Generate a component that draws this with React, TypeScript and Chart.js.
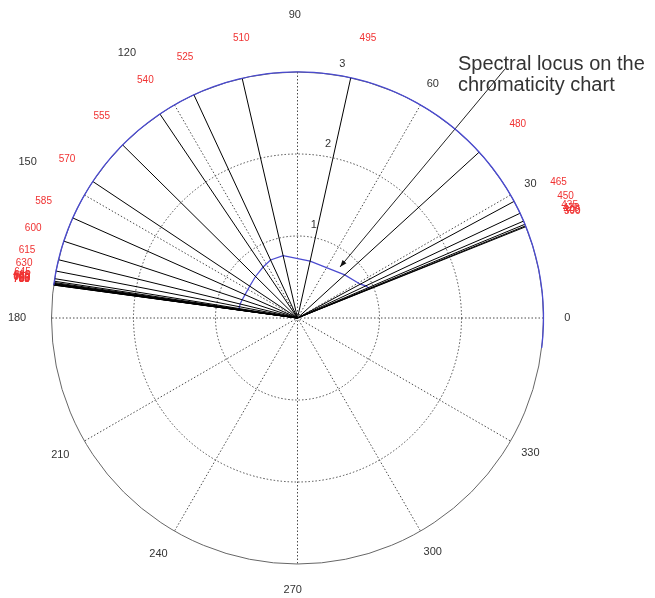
import React, { useEffect, useRef } from "react";
import { Chart, registerables } from "chart.js";

Chart.register(...registerables);

// Wavelengths (nm) shown as spokes, every 15 nm
const wavelengths = [
  390, 405, 420, 435, 450, 465, 480, 495, 510, 525, 540, 555, 570, 585, 600,
  615, 630, 645, 660, 675, 690, 705, 720, 735, 750, 765, 780,
];
// Hue angle (degrees) of each wavelength
const hueAngles = [
  21.8, 22.0, 22.4, 23.2, 25.2, 28.3, 42.4, 77.5, 103.0, 114.9, 124.0, 135.3,
  146.3, 156.0, 161.8, 166.3, 169.0, 170.8, 171.4, 171.7, 171.9, 172.0, 172.1,
  172.2, 172.2, 172.3, 172.3,
];
// Radius of the spectral locus (inner blue curve) at each wavelength
const locusRadius = [
  0.96, 0.96, 0.95, 0.94, 0.92, 0.87, 0.78, 0.71, 0.78, 0.78, 0.75, 0.72,
  0.7, 0.7, 0.71, 0.72, 0.72, 0.72, 0.72, 0.72, 0.72, 0.72, 0.72, 0.72, 0.72,
  0.72, 0.72,
];
const rayLength = 3;
// Outer blue arc (start, end angle in degrees) at radius 3
const outerArcAngles = [-7, 172.3];
const radialTicks = [1, 2, 3];
const angleTicks = [0, 30, 60, 90, 120, 150, 180, 210, 240, 270, 300, 330];
const annotationLines = ["Spectral locus on the", "chromaticity chart"];
const annotationAngle = 50.2;
const annotationRadii = [3.95, 0.81];

const RMAX = 3;
const rad = (d: number) => (d * Math.PI) / 180;
const toXY = (deg: number, r: number) => ({
  x: r * Math.cos(rad(deg)),
  y: r * Math.sin(rad(deg)),
});

// label placement (radius in data units, angle shift) per angle tick, as in the picture
const angleLabelRadius = [3.29, 3.28, 3.3, 3.7, 3.84, 3.8, 3.42, 3.34, 3.34, 3.32, 3.3, 3.28];
const angleLabelShift = [0, 0, 0, 0.5, 2.8, 0, 0, 0, -0.5, -1, 0, 0];

const polarPlugin = {
  id: "polarGrid",
  beforeDatasetsDraw(chart: any) {
    const { ctx, scales } = chart;
    const sx = scales.x;
    const sy = scales.y;
    const cx = sx.getPixelForValue(0);
    const cy = sy.getPixelForValue(0);
    const unit = sx.getPixelForValue(1) - cx;
    ctx.save();
    ctx.strokeStyle = "#4a4a4a";
    ctx.lineWidth = 1;
    ctx.setLineDash([1.5, 2]);
    for (const r of radialTicks) {
      if (r === RMAX) continue;
      ctx.beginPath();
      ctx.arc(cx, cy, r * unit, 0, Math.PI * 2);
      ctx.stroke();
    }
    for (const a of angleTicks) {
      if (a >= 180) continue;
      const p1 = toXY(a, RMAX);
      const p2 = toXY(a + 180, RMAX);
      ctx.beginPath();
      ctx.moveTo(sx.getPixelForValue(p1.x), sy.getPixelForValue(p1.y));
      ctx.lineTo(sx.getPixelForValue(p2.x), sy.getPixelForValue(p2.y));
      ctx.stroke();
    }
    ctx.setLineDash([]);
    ctx.strokeStyle = "#666";
    ctx.beginPath();
    ctx.arc(cx, cy, RMAX * unit, 0, Math.PI * 2);
    ctx.stroke();
    ctx.restore();
  },
  afterDatasetsDraw(chart: any) {
    const { ctx, scales } = chart;
    const sx = scales.x;
    const sy = scales.y;
    const cx = sx.getPixelForValue(0);
    const cy = sy.getPixelForValue(0);
    const unit = sx.getPixelForValue(1) - cx;
    const P = (deg: number, r: number) => {
      const p = toXY(deg, r);
      return [sx.getPixelForValue(p.x), sy.getPixelForValue(p.y)];
    };
    ctx.save();
    // outer blue arc of the locus
    ctx.strokeStyle = "#4a4ad0";
    ctx.lineWidth = 1.3;
    ctx.beginPath();
    ctx.arc(cx, cy, RMAX * unit, -rad(outerArcAngles[1]), -rad(outerArcAngles[0]));
    ctx.stroke();

    // arrow head of annotation
    const [ex, ey] = P(annotationAngle, annotationRadii[1]);
    const dir = rad(annotationAngle);
    const ux = -Math.cos(dir);
    const uy = Math.sin(dir);
    const nx = -uy;
    const ny = ux;
    ctx.fillStyle = "#111";
    ctx.beginPath();
    ctx.moveTo(ex, ey);
    ctx.lineTo(ex - ux * 7 + nx * 2.5, ey - uy * 7 + ny * 2.5);
    ctx.lineTo(ex - ux * 7 - nx * 2.5, ey - uy * 7 - ny * 2.5);
    ctx.closePath();
    ctx.fill();

    // angle labels
    ctx.font = '11px "Liberation Sans", Arial, sans-serif';
    ctx.fillStyle = "#333";
    ctx.textAlign = "center";
    ctx.textBaseline = "middle";
    angleTicks.forEach((a, i) => {
      const [x, y] = P(a + angleLabelShift[i], angleLabelRadius[i]);
      ctx.fillText(String(a), x, y);
    });
    // radial labels
    radialTicks.forEach((r) => {
      const [x, y] = P(80, r + 0.15);
      ctx.fillText(String(r), x, y);
    });
    // wavelength labels (left aligned, like MATLAB text)
    ctx.font = '10px "Liberation Sans", Arial, sans-serif';
    ctx.fillStyle = "#f03232";
    ctx.textAlign = "left";
    wavelengths.forEach((w, i) => {
      const [x, y] = P(hueAngles[i], 3.5);
      ctx.fillText(String(w), x, y);
    });
    // annotation text
    ctx.font = '20px "Liberation Sans", Arial, sans-serif';
    ctx.fillStyle = "#333";
    ctx.textAlign = "left";
    ctx.textBaseline = "alphabetic";
    const tx = sx.getPixelForValue(1.957);
    const ty = sy.getPixelForValue(3.02);
    annotationLines.forEach((t, i) => ctx.fillText(t, tx, ty + i * 21));
    ctx.restore();
  },
};

export default function App() {
  const ref = useRef<HTMLCanvasElement | null>(null);
  useEffect(() => {
    if (!ref.current) return;
    const rayDatasets = hueAngles.map((a, i) => ({
      label: `${wavelengths[i]} nm`,
      data: [toXY(a, 0), toXY(a, rayLength)],
      borderColor: "#000",
      borderWidth: 1,
      pointRadius: 0,
      showLine: true,
      clip: false as any,
    }));
    const locus = {
      label: "locus",
      data: hueAngles.map((a, i) => toXY(a, locusRadius[i])),
      borderColor: "#4a4ad0",
      borderWidth: 1.2,
      pointRadius: 0,
      showLine: true,
      clip: false as any,
    };
    const annotation = {
      label: "annotation",
      data: annotationRadii.map((r) => toXY(annotationAngle, r)),
      borderColor: "#222",
      borderWidth: 1,
      pointRadius: 0,
      showLine: true,
      clip: false as any,
    };
    const unitPx = 82;
    const cxPx = 297.5;
    const cyPx = 318;
    const W = 655;
    const H = 598;
    const chart = new Chart(ref.current, {
      type: "scatter",
      data: { datasets: [...rayDatasets, locus, annotation] },
      options: {
        animation: false,
        responsive: false,
        maintainAspectRatio: false,
        layout: { padding: 0 },
        plugins: { legend: { display: false }, tooltip: { enabled: false } },
        scales: {
          x: { type: "linear", display: false, min: -cxPx / unitPx, max: (W - cxPx) / unitPx },
          y: { type: "linear", display: false, min: -(H - cyPx) / unitPx, max: cyPx / unitPx },
        },
      },
      plugins: [polarPlugin],
    });
    return () => chart.destroy();
  }, []);
  return (
    <div style={{ position: "fixed", left: 0, top: 0, width: 655, height: 598, background: "#fff" }}>
      <canvas ref={ref} width={655} height={598} style={{ display: "block" }} />
    </div>
  );
}
